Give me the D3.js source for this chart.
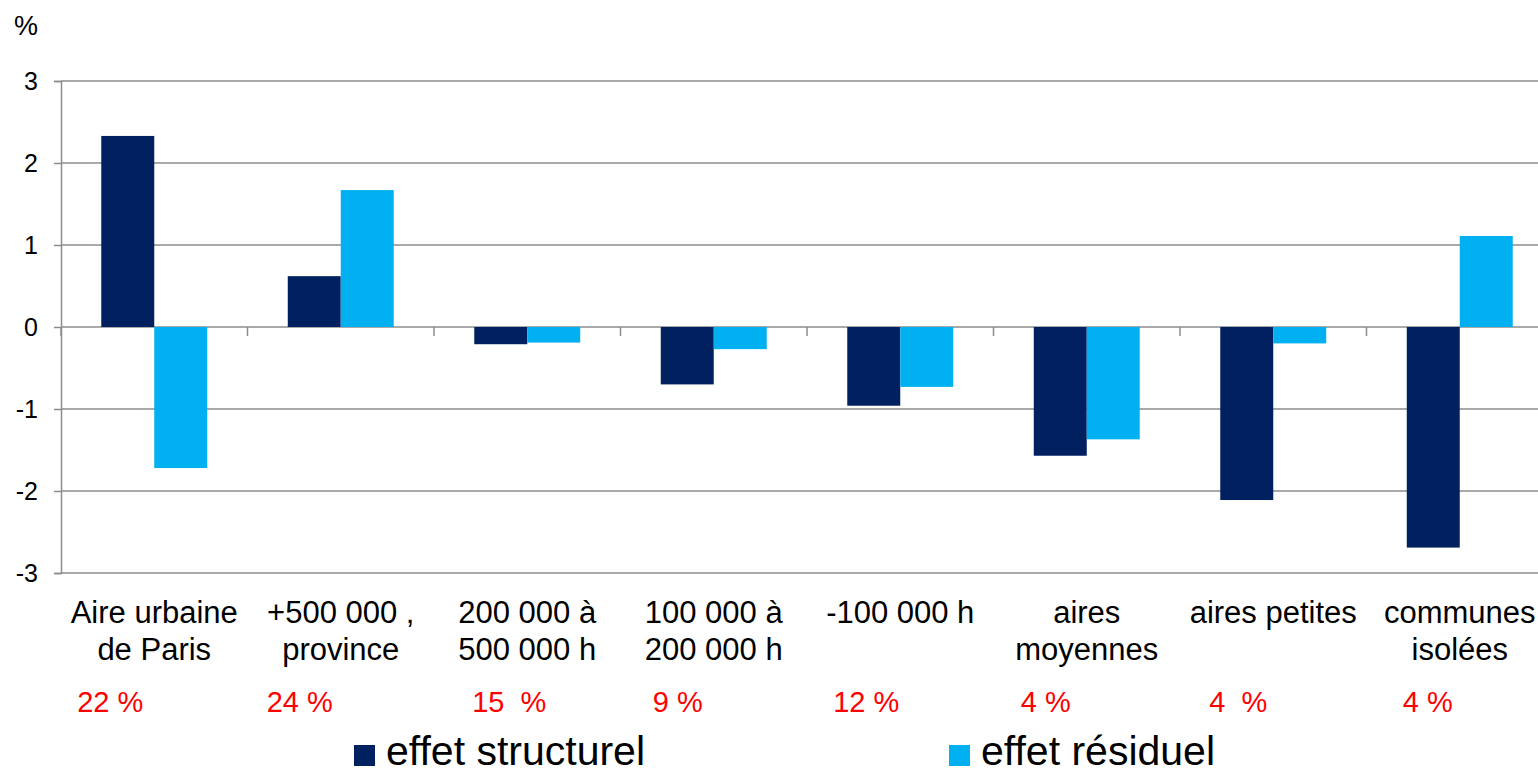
<!DOCTYPE html>
<html>
<head>
<meta charset="utf-8">
<script src="https://cdn.jsdelivr.net/npm/d3@7"></script>
<style>
  html, body { margin: 0; padding: 0; background: #fff; overflow: hidden; }
  svg { display: block; font-family: "Liberation Sans", Arial, sans-serif; }
</style>
</head>
<body>
<svg id="chart" width="1538" height="773"></svg>
<script>
// ---- data ----
const categories = [
  ["Aire urbaine", "de Paris"],
  ["+500 000 ,", "province"],
  ["200 000 à", "500 000 h"],
  ["100 000 à", "200 000 h"],
  ["-100 000 h"],
  ["aires", "moyennes"],
  ["aires petites"],
  ["communes", "isolées"]
];
const seriesNames = ["effet structurel", "effet résiduel"];
const effetStructurel = [2.33, 0.62, -0.21, -0.70, -0.96, -1.57, -2.11, -2.69];
const effetResiduel   = [-1.72, 1.67, -0.19, -0.27, -0.73, -1.37, -0.20, 1.11];
const shareLabels = ["22 %", "24 %", "15  %", "9 %", "12 %", "4 %", "4  %", "4 %"];
const yTicks = [-3, -2, -1, 0, 1, 2, 3];

// ---- layout ----
const colors = ["#002060", "#00B0F0"];
const shareDx = [-44, -41, -18, -36, -34, -41, -35, -32];
const plotLeft = 61, plotTop = 81, plotBottom = 573, bandW = 186.5;

const svg = d3.select("#chart");
const keys = categories.map((c, i) => "c" + i);
const x = d3.scaleBand().domain(keys).range([plotLeft, plotLeft + bandW * keys.length]).padding(0);
const x1 = d3.scaleBand().domain(seriesNames).range([0, x.bandwidth()]).paddingInner(0).paddingOuter(0.76);
const y = d3.scaleLinear().domain([-3, 3]).range([plotBottom, plotTop]);

// gridlines
svg.append("g").selectAll("line").data(yTicks).join("line")
  .attr("x1", plotLeft).attr("x2", 1538)
  .attr("y1", d => y(d)).attr("y2", d => y(d))
  .attr("stroke", "#8c8c8c").attr("stroke-width", 1.5);

// y axis
const yAxis = svg.append("g").attr("transform", `translate(${plotLeft},0)`)
  .call(d3.axisLeft(y).tickValues(yTicks).tickSize(7).tickPadding(16).tickFormat(d3.format("d")));
yAxis.select(".domain").attr("stroke", "#8c8c8c").attr("stroke-width", 1.5);
yAxis.selectAll(".tick line").attr("stroke", "#8c8c8c").attr("stroke-width", 1.5);
yAxis.selectAll(".tick text").attr("font-size", 25).attr("fill", "#000")
  .attr("font-family", "Liberation Sans, Arial, sans-serif").text(d => d < 0 ? "-" + Math.abs(d) : d);

// bars
const rows = categories.map((c, i) => ({ key: keys[i], vals: [effetStructurel[i], effetResiduel[i]] }));
const g = svg.append("g");
rows.forEach(r => {
  r.vals.forEach((v, j) => {
    g.append("rect")
      .attr("x", x(r.key) + x1(seriesNames[j]))
      .attr("width", x1.bandwidth())
      .attr("y", y(Math.max(0, v)))
      .attr("height", Math.abs(y(v) - y(0)))
      .attr("fill", colors[j]);
  });
});

// x-axis ticks on the zero line
const xTickPos = keys.map(k => x(k)).concat([x(keys[keys.length - 1]) + x.bandwidth()]);
svg.append("g").selectAll("line").data(xTickPos).join("line")
  .attr("x1", d => d).attr("x2", d => d)
  .attr("y1", y(0)).attr("y2", y(0) + 9)
  .attr("stroke", "#8c8c8c").attr("stroke-width", 1.5);

// category labels
const catG = svg.append("g");
categories.forEach((lines, i) => {
  const t = catG.append("text")
    .attr("x", x(keys[i]) + x.bandwidth() / 2)
    .attr("y", 623)
    .attr("text-anchor", "middle")
    .attr("font-size", 31).attr("fill", "#000");
  lines.forEach((ln, k) => {
    t.append("tspan").attr("x", x(keys[i]) + x.bandwidth() / 2)
      .attr("y", 623 + k * 37).text(ln);
  });
});

// share labels (red)
svg.append("g").selectAll("text").data(shareLabels).join("text")
  .attr("x", (d, i) => x(keys[i]) + x.bandwidth() / 2 + shareDx[i])
  .attr("y", 712)
  .attr("text-anchor", "middle")
  .attr("font-size", 29).attr("fill", "#FF0000")
  .style("white-space", "pre")
  .text(d => d);

// % unit
svg.append("text").attr("x", 14).attr("y", 35).attr("font-size", 27).attr("fill", "#000").text("%");

// legend
const legX = [354, 949];
const leg = svg.append("g");
seriesNames.forEach((s, j) => {
  leg.append("rect").attr("x", legX[j]).attr("y", 745).attr("width", 21).attr("height", 21).attr("fill", colors[j]);
  leg.append("text").attr("x", legX[j] + 32).attr("y", 765).attr("font-size", 41).attr("fill", "#000").text(s);
});
</script>
</body>
</html>
